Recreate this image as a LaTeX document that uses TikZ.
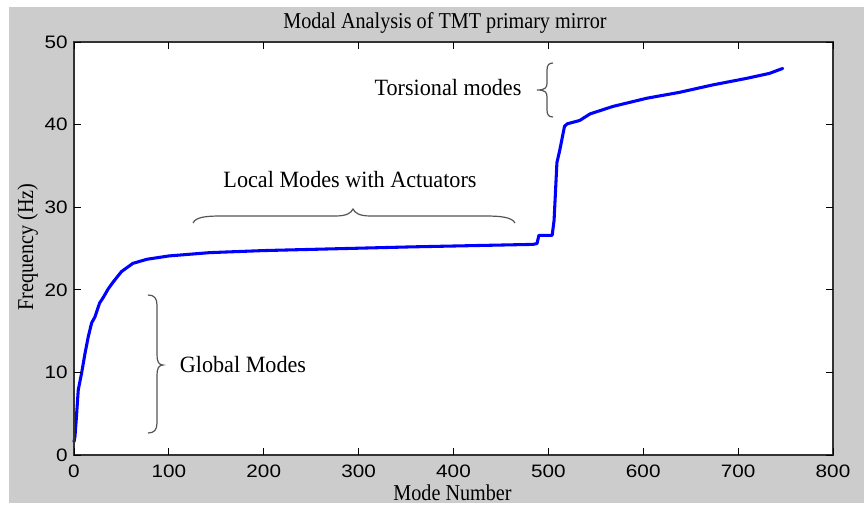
\documentclass[tikz,border=0pt]{standalone}
\usepackage{graphicx}
\usepackage{fontspec}
\setmainfont{Liberation Serif}
\newfontfamily\ticksfont{Liberation Sans}
\definecolor{figgray}{RGB}{204,204,204}
\definecolor{bracegray}{RGB}{85,85,85}
\definecolor{plotblue}{RGB}{0,0,255}
% serif labels are set slightly narrow, tick numbers slightly wide
\newcommand{\narrowtext}[1]{\scalebox{0.89}[1]{#1}}
\newcommand{\widetick}[1]{\scalebox{1.15}[1]{#1}}
\begin{document}
\begin{tikzpicture}[x=0.75pt,y=-0.75pt,
  axisline/.style={draw=black!80,line width=0.8pt},
  tickline/.style={draw=black,line width=0.6pt},
  ticklabel/.style={font=\ticksfont\fontsize{13.5}{15}\selectfont,inner sep=0pt},
  axislabel/.style={font=\fontsize{17}{19}\selectfont,inner sep=0pt},
  notelabel/.style={font=\fontsize{17.5}{19}\selectfont,inner sep=0pt,anchor=base},
  bracepath/.style={draw=bracegray,line width=0.9pt},
  curve/.style={draw=plotblue,line width=2.3pt,line join=round,line cap=round}]
\useasboundingbox (0,0) rectangle (864,508);
\fill[white] (0,0) rectangle (864,508);
\fill[figgray] (9,7) rectangle (864,503);
% axes area
\fill[white] (74,42) rectangle (833,455);

% frequency curve, in data coordinates (mode number, Hz)
\begin{scope}[shift={(74,455)},x=0.71156pt,y=6.195pt]
\draw[curve] plot coordinates {
 (0,1.6) (1,2.2) (2.5,4.5) (4.5,7.9) (8,9.9) (11.6,12.3) (15,14.3) (18.6,16)
 (22,16.7) (27,18.4) (31,19.1) (36,20.1) (41,20.9) (50,22.2) (62,23.2) (77,23.7)
 (100,24.1) (143,24.5) (200,24.75) (252,24.9) (357,25.2) (484,25.5) (488,25.6)
 (490,26.6) (504,26.6) (506,28.4) (509,35.4) (512,36.9) (517,39.8) (520,40.1)
 (533,40.5) (544,41.3) (568,42.2) (604,43.2) (638,43.9) (673,44.8) (709,45.6)
 (733,46.2) (747,46.8)};
\end{scope}

% frame and ticks
\draw[axisline] (74,42) rectangle (833,455);
\foreach \v [count=\i] in {0,100,200,300,400,500,600,700,800}{
  \pgfmathsetmacro{\px}{74+0.94875*\v}
  \draw[tickline] (\px,455) -- (\px,448);
  \draw[tickline] (\px,42) -- (\px,49);
  \node[ticklabel] (xt\i) at (\px,471.5) {\widetick{\v}};
}
\foreach \v [count=\i] in {0,10,20,30,40,50}{
  \pgfmathsetmacro{\py}{455-8.26*\v}
  \draw[tickline] (74,\py) -- (81,\py);
  \draw[tickline] (833,\py) -- (826,\py);
  \node[ticklabel,anchor=east] (yt\i) at (68,\py) {\widetick{\v}};
}

% titles
\node[axislabel,anchor=base] (title) at (445,28) {\narrowtext{Modal Analysis of TMT primary mirror}};
\node[axislabel,anchor=base] (xlabel) at (452.5,500) {\narrowtext{Mode Number}};
\node[axislabel,anchor=base,rotate=90] (ylabel) at (33,247) {\narrowtext{Frequency (Hz)}};

% annotations
\node[notelabel] (torsional) at (448,95) {\scalebox{0.95}[1]{Torsional modes}};
\node[notelabel] (local) at (350,187) {\scalebox{0.95}[1]{Local Modes with Actuators}};
\node[notelabel] (global) at (243,372) {\scalebox{0.95}[1]{Global Modes}};

% braces
\draw[bracepath] (553,63) .. controls (549,63) and (547,65) .. (547,70) -- (547,83)
  .. controls (547,88) and (545,90) .. (537,90)
  .. controls (545,90) and (547,92) .. (547,97) -- (547,110)
  .. controls (547,115) and (549,117) .. (553,117);
\draw[bracepath] (193,223) .. controls (196,216) and (210,216) .. (225,216) -- (335,216)
  .. controls (347,216) and (351,213) .. (353,209)
  .. controls (355,213) and (359,216) .. (371,216) -- (485,216)
  .. controls (500,216) and (512,217) .. (515,223);
\draw[bracepath] (148,295) .. controls (154,295) and (157,298) .. (157,305) -- (157,355)
  .. controls (157,362) and (159,365) .. (163,365)
  .. controls (159,365) and (157,368) .. (157,375) -- (157,423)
  .. controls (157,430) and (154,433) .. (148,433);
\end{tikzpicture}
\end{document}
